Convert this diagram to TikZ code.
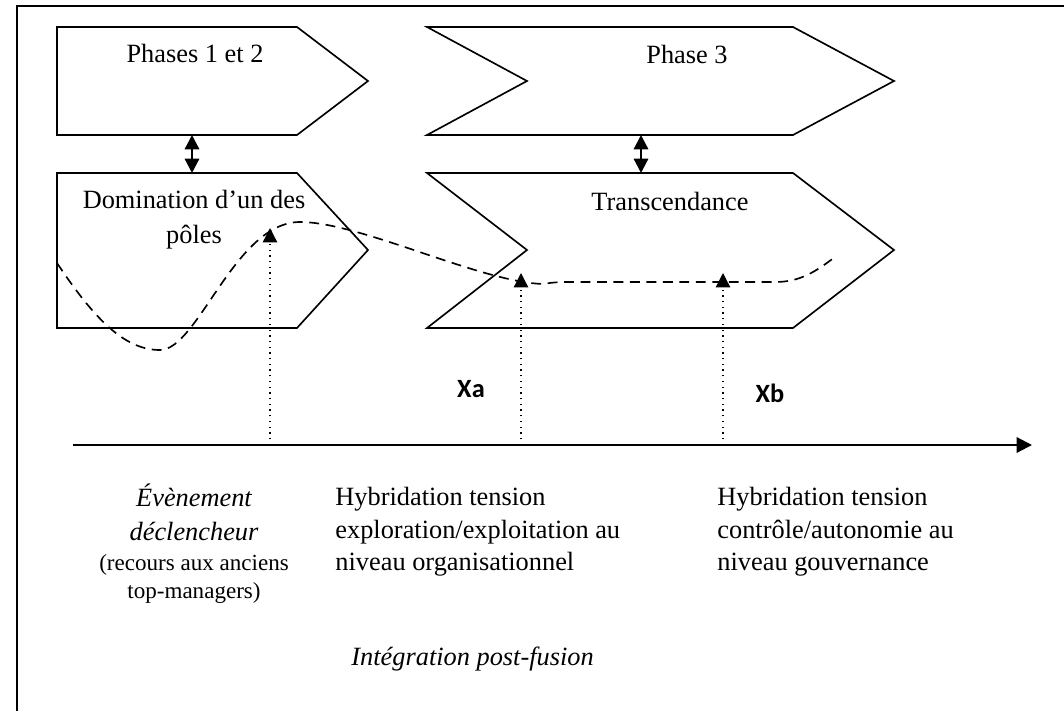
\documentclass[tikz,border=0pt]{standalone}
\usepackage{fontspec}
\setmainfont{Liberation Serif}
\newfontfamily\markfont{Carlito}
\usetikzlibrary{arrows.meta}
\usetikzlibrary{positioning}

\tikzset{
  phasebox/.style={draw, line width=0.75pt},
  txt/.style={inner sep=0pt, font=\fontsize{12}{14.8}\selectfont},
  smalltxt/.style={inner sep=0pt, font=\fontsize{10.5}{12.7}\selectfont},
  marktxt/.style={inner sep=0pt, font=\markfont\bfseries\fontsize{12}{14}\selectfont},
  link/.style={line width=1pt, {Triangle[length=6.5pt,width=6.5pt]}-{Triangle[length=6.5pt,width=6.5pt]}},
  event/.style={dotted, line width=0.6pt, -{Triangle[length=6.5pt,width=6.5pt]}},
  timeline/.style={line width=1pt, -{Triangle[length=7pt,width=7pt]}},
  trend/.style={dash pattern=on 4.5pt off 3pt, line width=0.75pt}
}

\begin{document}
\begin{tikzpicture}[x=0.016cm, y=-0.016cm]
  \useasboundingbox (0,0) rectangle (1064,711);

  % frame (only left and top edges show)
  \draw[line width=0.9pt] (1064,6) -- (17,6) -- (17,711);

  % Phase blocks
  \draw[phasebox] (57,27) -- (297,27) -- (368,81) -- (297,135) -- (57,135) -- cycle;
  \draw[phasebox] (57,173) -- (297,173) -- (368,250) -- (297,328) -- (57,328) -- cycle;
  \draw[phasebox] (427,27) -- (793,27) -- (894,81) -- (793,135) -- (427,135) -- (527,81) -- cycle;
  \draw[phasebox] (427,173) -- (793,173) -- (894,250) -- (793,328) -- (427,328) -- (527,250) -- cycle;

  % Block texts
  \node[txt, anchor=base] (ph12) at (195,62) {Phases 1 et 2};
  \node[txt, anchor=base] (ph3) at (687,63) {Phase 3};
  \node[txt, anchor=base] (dom) at (194,208) {Domination d’un des};
  \node[txt, anchor=base] (pol) at (194,243) {pôles};
  \node[txt, anchor=base] (trans) at (670,210) {Transcendance};

  % Links between the blocks
  \coordinate (up1) at (192,135);  \coordinate (lo1) at (192,173);
  \coordinate (up2) at (641,135);  \coordinate (lo2) at (641,173);
  \foreach \i in {1,2}
      {\draw[link] (up\i) -- (lo\i);}

  % Trend (dashed)
  \draw[trend] (57,263) .. controls (95,320) and (125,350) .. (160,350)
     .. controls (198,350) and (235,222) .. (300,222)
     .. controls (360,222) and (480,282) .. (543,284)
     .. controls (555,282) and (560,282) .. (575,282) -- (775,282)
     .. controls (800,282) and (815,272) .. (835,257);

  % Time axis
  \coordinate (t0) at (73,445);
  \coordinate (t1) at (1032,445);
  \draw[timeline] (t0) -- (t1);

  % Dotted events
  \foreach \n/\x/\y in {ev/270/228, xa/521/273, xb/723/273}
      {\coordinate (\n0) at (\x,445);
       \coordinate (\n1) at (\x,\y);
       \draw[event] (\n0) -- (\n1);}

  \node[marktxt, anchor=base] (lxa) at (471,397) {Xa};
  \node[marktxt, anchor=base] (lxb) at (770,402) {Xb};

  % Texts under the axis
  \node[txt, font=\fontsize{12}{15.5}\selectfont\itshape, align=center, anchor=north] (evt) at (194,483) {Évènement\\déclencheur};
  \node[smalltxt, align=center, anchor=north] (evt2) at (194,554) {(recours aux anciens\\top-managers)};
  \node[txt, align=left, anchor=north west] (hyb1) at (335,487) {Hybridation tension\\exploration/exploitation au\\niveau organisationnel};
  \node[txt, align=left, anchor=north west] (hyb2) at (717,487) {Hybridation tension\\contrôle/autonomie au\\niveau gouvernance};
  \node[txt, font=\fontsize{12}{14}\selectfont\itshape, anchor=base west] (ipf) at (351,665) {Intégration post-fusion};
\end{tikzpicture}
\end{document}
